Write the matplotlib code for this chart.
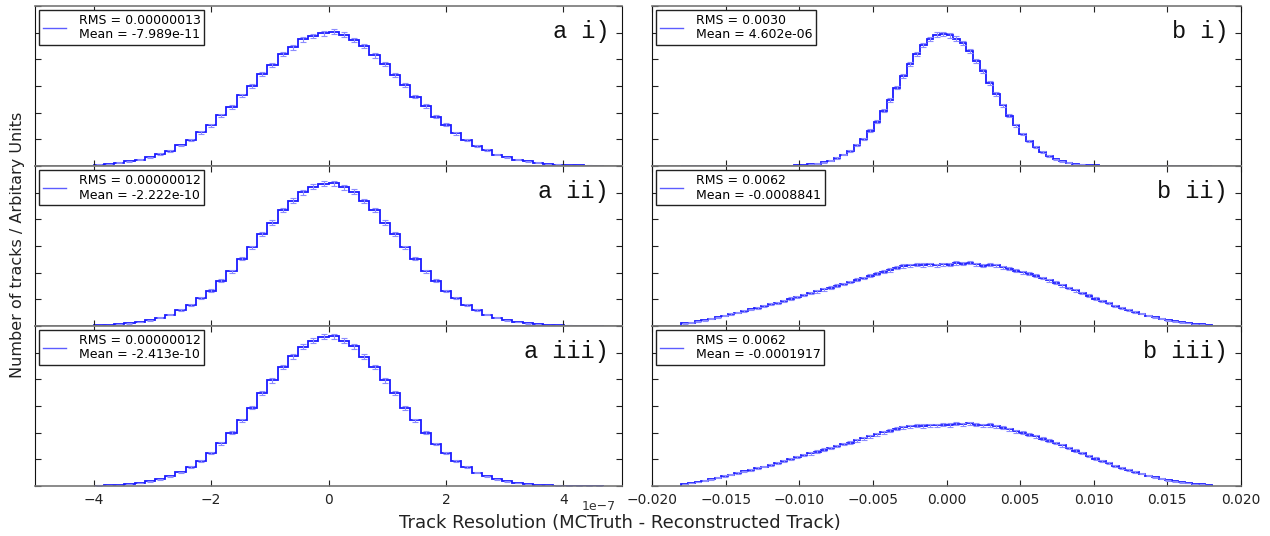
import numpy as np
import matplotlib
matplotlib.use("Agg")
import matplotlib.pyplot as plt
from matplotlib.lines import Line2D
from matplotlib.ticker import MultipleLocator, NullFormatter, FuncFormatter, ScalarFormatter

# --- data (bin heights, arbitrary units) ---
a_range = (-4.0e-7, 4.7e-7)
b_range = (-0.018, 0.018)

a_i = [0.05, 0.08, 0.12, 0.17, 0.24, 0.33, 0.45, 0.57, 0.77, 0.99, 1.26, 1.52, 1.90, 2.21, 2.65,
       3.00, 3.45, 3.80, 4.20, 4.45, 4.75, 4.88, 4.98, 5.03, 4.92, 4.72, 4.50, 4.15, 3.84, 3.40,
       3.05, 2.60, 2.25, 1.85, 1.55, 1.22, 0.99, 0.75, 0.59, 0.43, 0.32, 0.23, 0.17, 0.12, 0.08,
       0.05, 0.035, 0.023, 0.015, 0.009]
a_ii = [0.03, 0.04, 0.07, 0.10, 0.15, 0.22, 0.31, 0.43, 0.60, 0.78, 1.05, 1.33, 1.70, 2.06, 2.53,
        2.95, 3.45, 3.88, 4.35, 4.70, 5.02, 5.22, 5.34, 5.36, 5.20, 5.03, 4.69, 4.35, 3.88, 3.45,
        2.95, 2.52, 2.06, 1.70, 1.32, 1.05, 0.78, 0.60, 0.42, 0.31, 0.21, 0.15, 0.10, 0.065, 0.042,
        0.026, 0.016, 0.01, 0.006, 0.003]
a_iii = [0.017, 0.028, 0.046, 0.072, 0.11, 0.17, 0.25, 0.36, 0.51, 0.70, 0.95, 1.23, 1.60, 1.99, 2.46,
         2.94, 3.47, 3.96, 4.46, 4.86, 5.23, 5.45, 5.59, 5.62, 5.44, 5.24, 4.85, 4.46, 3.96, 3.48,
         2.93, 2.46, 2.00, 1.58, 1.24, 0.93, 0.71, 0.50, 0.36, 0.25, 0.17, 0.11, 0.072, 0.046, 0.028,
         0.017, 0.01, 0.006, 0.003, 0.002]

b_i = [0, 0, 0, 0, 0, 0, 0, 0, 0, 0, 0, 0, 0.002, 0.003,
       0.005, 0.009, 0.014, 0.023, 0.037, 0.059, 0.092, 0.14, 0.20, 0.30, 0.42, 0.57, 0.78, 1.02,
       1.33, 1.66, 2.07, 2.47, 2.94, 3.37, 3.82, 4.19, 4.53, 4.76, 4.92, 4.95, 4.90, 4.78, 4.62,
       4.32, 3.95, 3.55, 3.12, 2.70, 2.27, 1.88, 1.52, 1.20, 0.93, 0.70, 0.52, 0.37, 0.26, 0.18,
       0.12, 0.08, 0.05, 0.032, 0.02, 0.012, 0.007, 0.004, 0.002,
       0, 0, 0, 0, 0, 0, 0, 0, 0, 0, 0, 0, 0]
b_ii = [0.10, 0.12, 0.17, 0.22, 0.27, 0.33, 0.39, 0.45, 0.50, 0.56,
        0.62, 0.68, 0.75, 0.81, 0.88, 0.95, 1.03, 1.10, 1.17, 1.24,
        1.30, 1.37, 1.44, 1.51, 1.58, 1.65, 1.73, 1.80, 1.88, 1.96,
        2.03, 2.10, 2.18, 2.25, 2.27, 2.30, 2.29, 2.31, 2.28, 2.32,
        2.30, 2.36, 2.33, 2.37, 2.31, 2.26, 2.30, 2.27, 2.20, 2.14,
        2.08, 2.02, 1.96, 1.88, 1.80, 1.71, 1.62, 1.53, 1.43, 1.34,
        1.24, 1.14, 1.03, 0.93, 0.85, 0.76, 0.68, 0.61, 0.53, 0.46,
        0.39, 0.32, 0.27, 0.22, 0.18, 0.14, 0.11, 0.08, 0.06, 0.04]
b_iii = [0.08, 0.11, 0.15, 0.20, 0.26, 0.31, 0.37, 0.43, 0.49, 0.55,
         0.60, 0.67, 0.73, 0.80, 0.87, 0.93, 1.01, 1.08, 1.15, 1.22,
         1.29, 1.36, 1.42, 1.50, 1.57, 1.63, 1.71, 1.79, 1.86, 1.94,
         2.01, 2.08, 2.15, 2.20, 2.24, 2.26, 2.25, 2.28, 2.27, 2.30,
         2.29, 2.33, 2.31, 2.35, 2.30, 2.28, 2.29, 2.24, 2.19, 2.12,
         2.06, 2.00, 1.93, 1.86, 1.78, 1.70, 1.61, 1.52, 1.42, 1.33,
         1.23, 1.13, 1.03, 0.94, 0.85, 0.76, 0.68, 0.60, 0.53, 0.46,
         0.39, 0.33, 0.27, 0.22, 0.18, 0.14, 0.11, 0.08, 0.06, 0.04]

a_series = [a_i, a_ii, a_iii]
b_series = [b_i, b_ii, b_iii]
a_legends = ["RMS = 0.00000013\nMean = -7.989e-11",
             "RMS = 0.00000012\nMean = -2.222e-10",
             "RMS = 0.00000012\nMean = -2.413e-10"]
b_legends = ["RMS = 0.0030\nMean = 4.602e-06",
             "RMS = 0.0062\nMean = -0.0008841",
             "RMS = 0.0062\nMean = -0.0001917"]
row_tags = ["i)", "ii)", "iii)"]
a_scale = 1e-7

W, H = 1270, 536
fig = plt.figure(figsize=(W / 100, H / 100), dpi=100)

def px_axes(x0, x1, top, bottom):
    return fig.add_axes([x0 / W, 1 - bottom / H, (x1 - x0) / W, (bottom - top) / H])

def style(ax, xlim, step, fmt):
    ax.set_xlim(*xlim)
    ax.set_ylim(0, 6)
    ax.xaxis.set_major_locator(MultipleLocator(step))
    ax.yaxis.set_major_locator(MultipleLocator(1))
    ax.yaxis.set_major_formatter(NullFormatter())
    ax.tick_params(direction="in", top=True, right=True, length=4, width=0.8,
                   labelsize=10, colors="#222222", pad=5)
    ax.xaxis.set_major_formatter(fmt if fmt is not None else NullFormatter())
    for side in ["left", "right"]:
        ax.spines[side].set_color("#111111")
    for side in ["top", "bottom"]:
        ax.spines[side].set_color("#777777")
        ax.spines[side].set_linewidth(1.2)

def draw(ax, counts, rng, legend_text, tag):
    counts = np.array(counts, dtype=float)
    edges = np.linspace(rng[0], rng[1], len(counts) + 1)
    centers = 0.5 * (edges[1:] + edges[:-1])
    ax.stairs(counts, edges, color="#1a1aff", lw=1.3)
    ax.errorbar(centers, counts, yerr=0.04 * np.sqrt(counts), fmt="none",
                ecolor="#8c8cff", elinewidth=0.8, capsize=2, capthick=0.8)
    h = Line2D([], [], color="#5c5cff", lw=1)
    leg = ax.legend([h], [legend_text], loc="upper left", fontsize=9,
                    handlelength=1.9, handletextpad=1.0, borderaxespad=0.3,
                    fancybox=False, framealpha=1, borderpad=0.3, labelspacing=0.1)
    leg.get_frame().set_edgecolor("#222222")
    leg.get_frame().set_linewidth(1.0)
    ax.text(0.978, 0.84, tag, transform=ax.transAxes, ha="right", va="center",
            family="Liberation Mono", fontsize=17, color="#111111")

def minus(s):
    return s.replace("-", "\u2212")

a_fmt = FuncFormatter(lambda v, p: minus("%g" % round(v / a_scale, 6)))
b_fmt = FuncFormatter(lambda v, p: minus("%.3f" % (0.0 if abs(v) < 1e-12 else v)))

rows = [(6, 166), (166, 326), (326, 486)]
for r, (top, bottom) in enumerate(rows):
    last = r == 2
    axa = px_axes(35, 622, top, bottom)
    style(axa, (-5e-7, 5e-7), 2e-7, a_fmt if last else None)
    draw(axa, a_series[r], a_range, a_legends[r], "a " + row_tags[r])

    axb = px_axes(652, 1241, top, bottom)
    style(axb, (-0.02, 0.02), 0.005, b_fmt if last else None)
    draw(axb, b_series[r], b_range, b_legends[r], "b " + row_tags[r])

fig.text(616 / W, 1 - 506 / H, minus("1e-7"), ha="right", va="center",
         fontsize=9, color="#333333")
fig.text(18 / W, 1 - 245 / H, "Number of tracks / Arbitary Units", rotation=90,
         ha="center", va="center", fontsize=11.5, color="#222222")
fig.text(620 / W, 1 - 523 / H, "Track Resolution (MCTruth - Reconstructed Track)",
         ha="center", va="center", fontsize=13, color="#222222")

fig.savefig("out.png", dpi=100)
